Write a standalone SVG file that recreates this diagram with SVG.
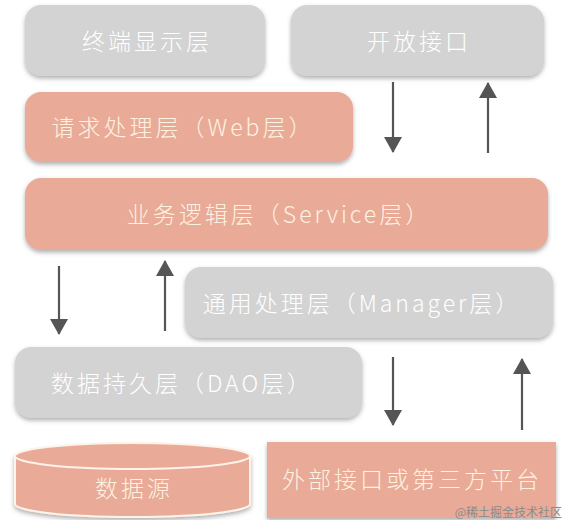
<svg xmlns="http://www.w3.org/2000/svg" width="574" height="520" viewBox="0 0 574 520">
<defs>
<filter id="sh" x="-10%" y="-20%" width="120%" height="150%">
<feDropShadow dx="0" dy="2.5" stdDeviation="2" flood-color="#555" flood-opacity="0.45"/>
</filter>
<marker id="ah" markerWidth="16" markerHeight="18" refX="15" refY="9" orient="auto" markerUnits="userSpaceOnUse" viewBox="0 0 16 18">
<path d="M0,0 L16,9 L0,18 Z" fill="#555"/>
</marker>
</defs>
<style>
.gray{fill:#d3d3d3;}
.sal{fill:#e9aa98;}
.t{font-family:"Noto Sans CJK SC","Noto Sans",sans-serif;font-size:23px;font-weight:300;text-anchor:middle;letter-spacing:3px;}
.tg{fill:#ffffff;}
.ts{fill:#fdf3e0;}
.arr{stroke:#555;stroke-width:2.2;fill:none;}
</style>
<rect width="574" height="520" fill="#ffffff"/>
<g id="terminal">
<rect class="gray" x="25" y="5" width="240" height="71" rx="16" filter="url(#sh)"/>
<text class="t tg" x="147" y="50">终端显示层</text>
</g>
<g id="openapi">
<rect class="gray" x="291" y="5" width="253" height="71" rx="16" filter="url(#sh)"/>
<text class="t tg" x="419" y="50">开放接口</text>
</g>
<g id="web">
<rect class="sal" x="25" y="92" width="328" height="70" rx="16" filter="url(#sh)"/>
<text class="t ts" x="183" y="136">请求处理层（Web层）</text>
</g>
<g id="service">
<rect class="sal" x="25" y="178" width="523" height="72" rx="16" filter="url(#sh)"/>
<text class="t ts" x="279" y="223">业务逻辑层（Service层）</text>
</g>
<g id="manager">
<rect class="gray" x="185" y="267" width="368" height="71" rx="16" filter="url(#sh)"/>
<text class="t tg" x="362" y="312">通用处理层（Manager层）</text>
</g>
<g id="dao">
<rect class="gray" x="15" y="347" width="347" height="71" rx="16" filter="url(#sh)"/>
<text class="t tg" x="182" y="392">数据持久层（DAO层）</text>
</g>
<g id="datasource">
<path class="sal" d="M15,456 L15,504 A117.5,13 0 0 0 250,504 L250,456 Z" stroke="#fdf3e8" stroke-width="2" filter="url(#sh)"/>
<ellipse class="sal" cx="132.5" cy="456" rx="117.5" ry="13" stroke="#fdf3e8" stroke-width="2"/>
<text class="t ts" x="134" y="497">数据源</text>
</g>
<g id="external">
<rect class="sal" x="267" y="442" width="289" height="76" filter="url(#sh)"/>
<text class="t ts" x="412" y="488">外部接口或第三方平台</text>
</g>
<g id="connectors">
<line class="arr" x1="393" y1="82" x2="393" y2="152" marker-end="url(#ah)"/>
<line class="arr" x1="488" y1="153" x2="488" y2="83" marker-end="url(#ah)"/>
<line class="arr" x1="59" y1="266" x2="59" y2="334" marker-end="url(#ah)"/>
<line class="arr" x1="165" y1="331" x2="165" y2="261" marker-end="url(#ah)"/>
<line class="arr" x1="393" y1="357" x2="393" y2="425" marker-end="url(#ah)"/>
<line class="arr" x1="522" y1="430" x2="522" y2="359" marker-end="url(#ah)"/>
</g>
<text x="562" y="517" font-family="'Noto Sans CJK SC',sans-serif" font-size="12" fill="#8a8a8a" text-anchor="end">@稀土掘金技术社区</text>
</svg>
